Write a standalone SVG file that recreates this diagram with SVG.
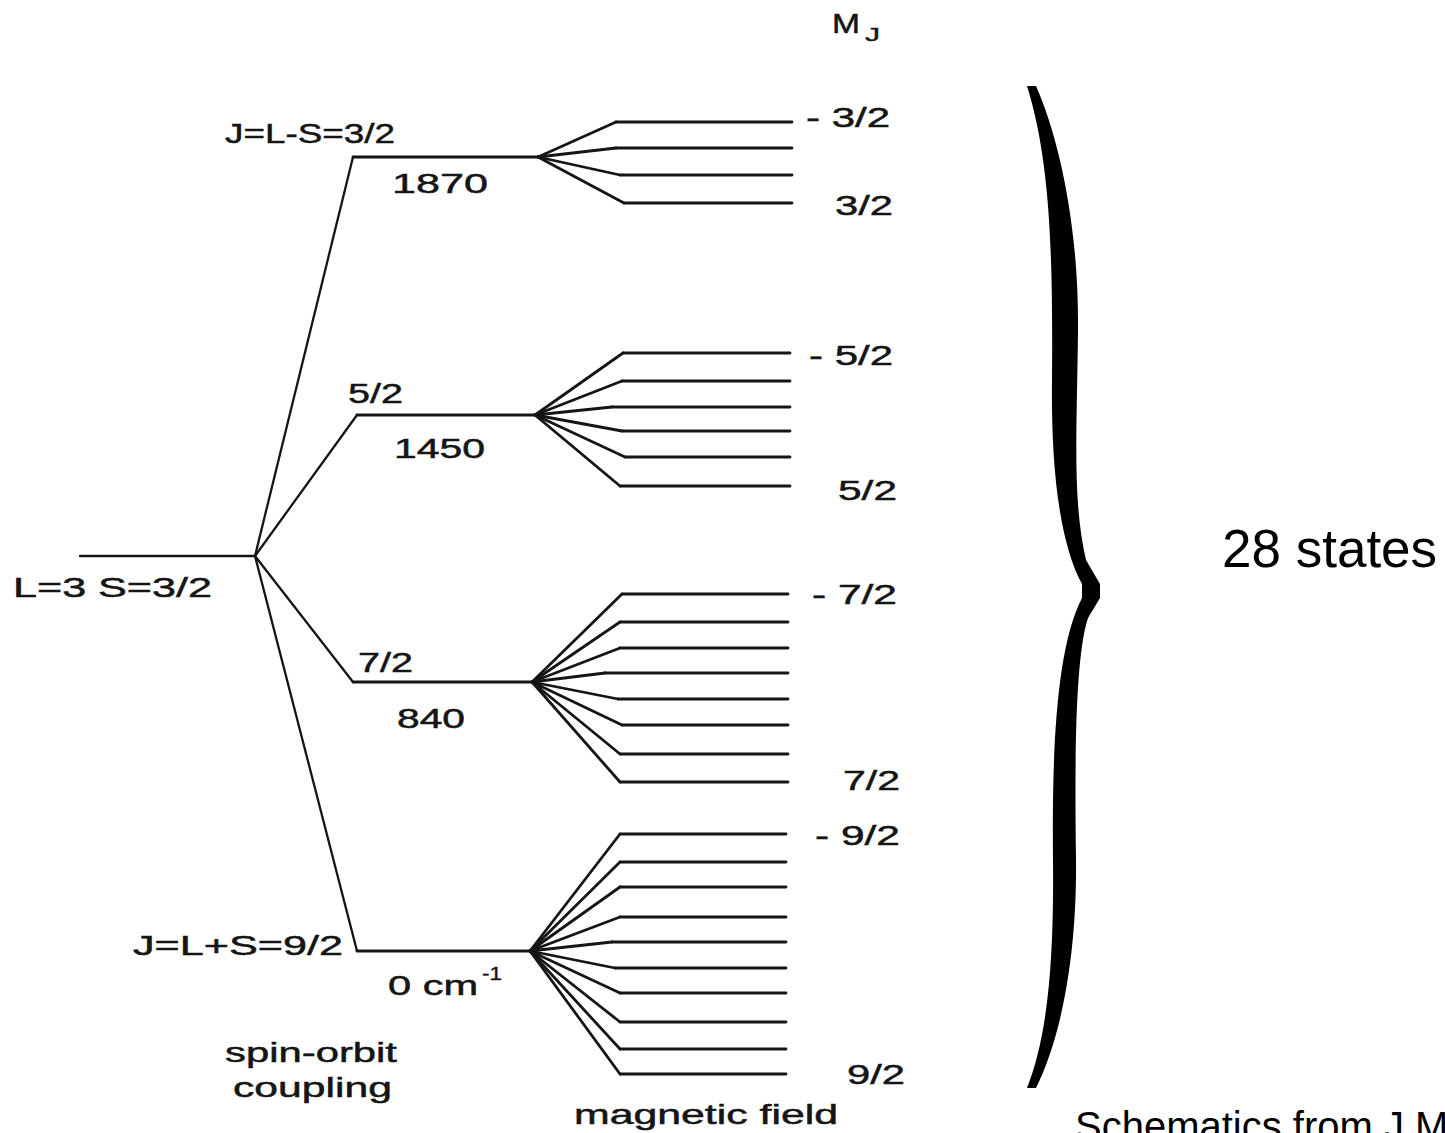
<svg xmlns="http://www.w3.org/2000/svg" width="1445" height="1133" viewBox="0 0 1445 1133">
<style>
.lv{stroke:#151515;stroke-width:2.8;fill:none;stroke-linecap:round;stroke-linejoin:round}
.so{stroke:#151515;stroke-width:2.3;fill:none;stroke-linecap:round}
.t{font-family:"Liberation Sans",Arial,sans-serif;font-size:28px;fill:#151515;stroke:#151515;stroke-width:0.5}
.ts{font-family:"Liberation Sans",Arial,sans-serif;font-size:18px;fill:#151515;stroke:#151515;stroke-width:0.4}
.big{font-family:"Liberation Sans",Arial,sans-serif;font-size:53px;fill:#000}
.ref{font-family:"Liberation Sans",Arial,sans-serif;font-size:40px;fill:#000}
</style>
<rect width="1445" height="1133" fill="#fff"/>

<g id="header-MJ">
<text class="t" x="832" y="33" textLength="28" lengthAdjust="spacingAndGlyphs">M</text>
<text class="ts" x="865" y="41" textLength="15" lengthAdjust="spacingAndGlyphs">J</text>
</g>

<g id="term-L3S32">
<line class="so" x1="80" y1="556" x2="255" y2="556"/>
<text class="t" x="13" y="597" textLength="199" lengthAdjust="spacingAndGlyphs">L=3 S=3/2</text>
</g>

<g id="level-J32">
<line class="lv" x1="353" y1="157" x2="538" y2="157"/>
<text class="t" x="225" y="143" textLength="170" lengthAdjust="spacingAndGlyphs">J=L-S=3/2</text>
<text class="t" x="392" y="193" textLength="96" lengthAdjust="spacingAndGlyphs">1870</text>
</g>

<g id="level-J52">
<line class="lv" x1="357" y1="415" x2="535" y2="415"/>
<text class="t" x="348" y="403" textLength="55" lengthAdjust="spacingAndGlyphs">5/2</text>
<text class="t" x="394" y="458" textLength="91" lengthAdjust="spacingAndGlyphs">1450</text>
</g>

<g id="level-J72">
<line class="lv" x1="353" y1="682" x2="532" y2="682"/>
<text class="t" x="358" y="672" textLength="55" lengthAdjust="spacingAndGlyphs">7/2</text>
<text class="t" x="397" y="728" textLength="68" lengthAdjust="spacingAndGlyphs">840</text>
</g>

<g id="level-J92">
<line class="lv" x1="357" y1="951" x2="530" y2="951"/>
<text class="t" x="133" y="955" textLength="210" lengthAdjust="spacingAndGlyphs">J=L+S=9/2</text>
<text class="t" x="388" y="995" textLength="90" lengthAdjust="spacingAndGlyphs">0 cm</text>
<text class="ts" x="482" y="980" textLength="20" lengthAdjust="spacingAndGlyphs">-1</text>
</g>

<g id="sublevels-J32">
<line class="lv" x1="616" y1="122" x2="792" y2="122"/>
<line class="lv" x1="616" y1="148" x2="792" y2="148"/>
<line class="lv" x1="620" y1="175" x2="792" y2="175"/>
<line class="lv" x1="624" y1="203" x2="792" y2="203"/>
<text class="t" x="806" y="127" textLength="84" lengthAdjust="spacingAndGlyphs">- 3/2</text>
<text class="t" x="835" y="215" textLength="58" lengthAdjust="spacingAndGlyphs">3/2</text>
</g>

<g id="sublevels-J52">
<line class="lv" x1="623" y1="353" x2="790" y2="353"/>
<line class="lv" x1="622" y1="381" x2="790" y2="381"/>
<line class="lv" x1="612" y1="407" x2="790" y2="407"/>
<line class="lv" x1="622" y1="431" x2="790" y2="431"/>
<line class="lv" x1="625" y1="457" x2="790" y2="457"/>
<line class="lv" x1="620" y1="486" x2="790" y2="486"/>
<text class="t" x="809" y="365" textLength="84" lengthAdjust="spacingAndGlyphs">- 5/2</text>
<text class="t" x="838" y="500" textLength="59" lengthAdjust="spacingAndGlyphs">5/2</text>
</g>

<g id="sublevels-J72">
<line class="lv" x1="622" y1="594" x2="788" y2="594"/>
<line class="lv" x1="620" y1="622" x2="788" y2="622"/>
<line class="lv" x1="620" y1="648" x2="788" y2="648"/>
<line class="lv" x1="605" y1="673" x2="788" y2="673"/>
<line class="lv" x1="618" y1="699" x2="788" y2="699"/>
<line class="lv" x1="622" y1="725" x2="788" y2="725"/>
<line class="lv" x1="620" y1="754" x2="788" y2="754"/>
<line class="lv" x1="620" y1="782" x2="788" y2="782"/>
<text class="t" x="812" y="604" textLength="85" lengthAdjust="spacingAndGlyphs">- 7/2</text>
<text class="t" x="843" y="790" textLength="57" lengthAdjust="spacingAndGlyphs">7/2</text>
</g>

<g id="sublevels-J92">
<line class="lv" x1="620" y1="834" x2="786" y2="834"/>
<line class="lv" x1="620" y1="862" x2="786" y2="862"/>
<line class="lv" x1="620" y1="887" x2="786" y2="887"/>
<line class="lv" x1="620" y1="917" x2="786" y2="917"/>
<line class="lv" x1="612" y1="942" x2="786" y2="942"/>
<line class="lv" x1="615" y1="968" x2="786" y2="968"/>
<line class="lv" x1="620" y1="993" x2="786" y2="993"/>
<line class="lv" x1="620" y1="1022" x2="786" y2="1022"/>
<line class="lv" x1="620" y1="1049" x2="786" y2="1049"/>
<line class="lv" x1="620" y1="1074" x2="786" y2="1074"/>
<text class="t" x="815" y="845" textLength="85" lengthAdjust="spacingAndGlyphs">- 9/2</text>
<text class="t" x="847" y="1084" textLength="58" lengthAdjust="spacingAndGlyphs">9/2</text>
</g>

<g id="connectors">
<line class="so" x1="255" y1="556" x2="353" y2="157"/>
<line class="so" x1="255" y1="556" x2="357" y2="415"/>
<line class="so" x1="255" y1="556" x2="353" y2="682"/>
<line class="so" x1="255" y1="556" x2="357" y2="951"/>
<g class="lv">
<line x1="538" y1="157" x2="616" y2="122"/>
<line x1="538" y1="157" x2="616" y2="148"/>
<line x1="538" y1="157" x2="620" y2="175"/>
<line x1="538" y1="157" x2="624" y2="203"/>
<line x1="535" y1="415" x2="623" y2="353"/>
<line x1="535" y1="415" x2="622" y2="381"/>
<line x1="535" y1="415" x2="612" y2="407"/>
<line x1="535" y1="415" x2="622" y2="431"/>
<line x1="535" y1="415" x2="625" y2="457"/>
<line x1="535" y1="415" x2="620" y2="486"/>
<line x1="532" y1="682" x2="622" y2="594"/>
<line x1="532" y1="682" x2="620" y2="622"/>
<line x1="532" y1="682" x2="620" y2="648"/>
<line x1="532" y1="682" x2="605" y2="673"/>
<line x1="532" y1="682" x2="618" y2="699"/>
<line x1="532" y1="682" x2="622" y2="725"/>
<line x1="532" y1="682" x2="620" y2="754"/>
<line x1="532" y1="682" x2="620" y2="782"/>
<line x1="530" y1="951" x2="620" y2="834"/>
<line x1="530" y1="951" x2="620" y2="862"/>
<line x1="530" y1="951" x2="620" y2="887"/>
<line x1="530" y1="951" x2="620" y2="917"/>
<line x1="530" y1="951" x2="612" y2="942"/>
<line x1="530" y1="951" x2="615" y2="968"/>
<line x1="530" y1="951" x2="620" y2="993"/>
<line x1="530" y1="951" x2="620" y2="1022"/>
<line x1="530" y1="951" x2="620" y2="1049"/>
<line x1="530" y1="951" x2="620" y2="1074"/>
</g>
</g>

<g id="axis-labels">
<text class="t" x="225" y="1062" font-size="27" textLength="172" lengthAdjust="spacingAndGlyphs">spin-orbit</text>
<text class="t" x="233" y="1097" font-size="27" textLength="159" lengthAdjust="spacingAndGlyphs">coupling</text>
<text class="t" x="574" y="1124" textLength="264" lengthAdjust="spacingAndGlyphs">magnetic field</text>
</g>

<g id="brace">
<path fill="#000" d="M1027,86 L1036,86 C1060,140 1079,230 1078,330 C1077,430 1072,500 1086,560 L1100,584 L1100,598 L1088,618 C1074,660 1075,780 1076,860 C1077,960 1060,1040 1036,1088 L1027,1088 C1048,1035 1054,960 1053,860 C1052,760 1055,650 1082,598 L1082,584 C1058,540 1051,460 1052,380 C1053,250 1050,160 1027,86 Z"/>
</g>

<g id="summary">
<text class="big" x="1222" y="567">28 states</text>
</g>

<g id="source">
<text class="ref" x="1075" y="1140">Schematics from J.M</text>
</g>
</svg>
